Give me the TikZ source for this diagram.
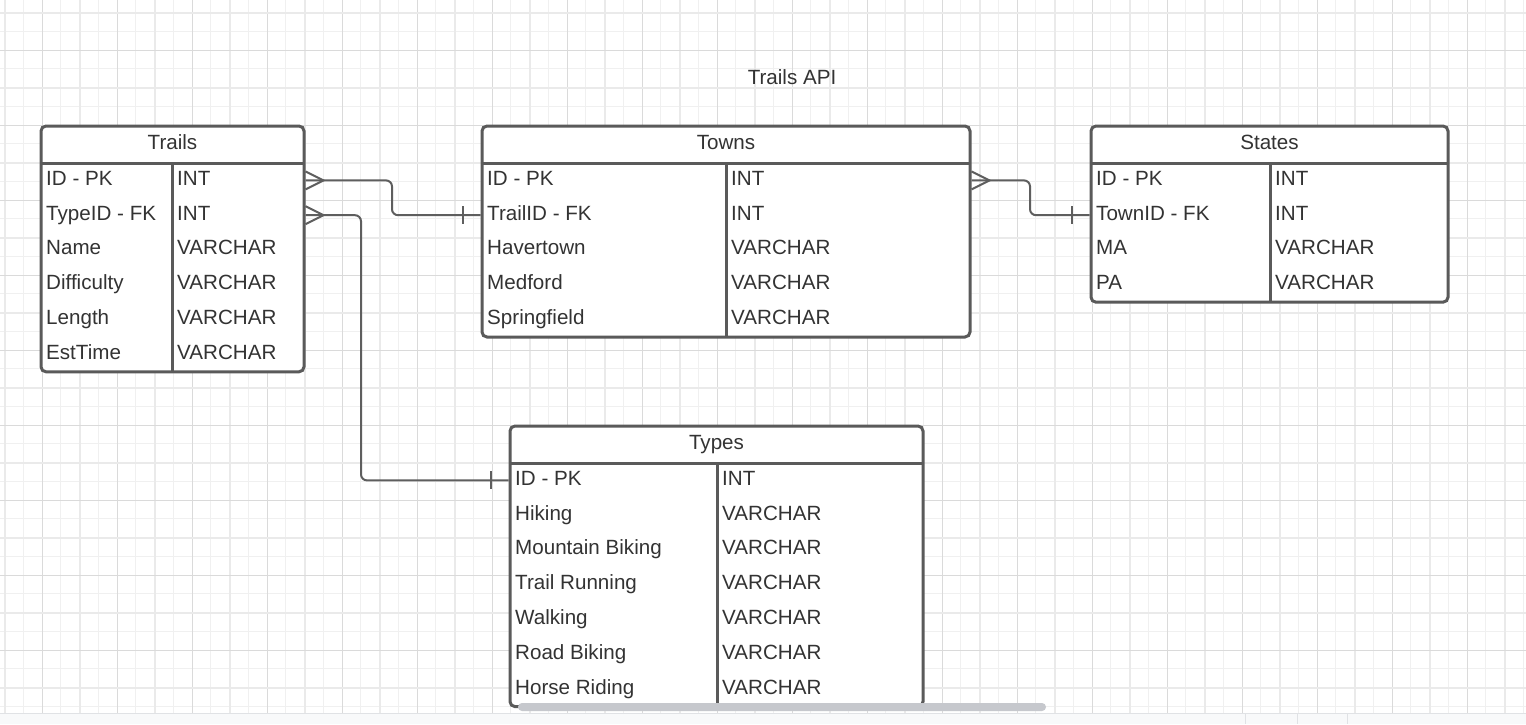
\documentclass[tikz,border=0pt]{standalone}
\usepackage{fontspec}
\setmainfont{Liberation Sans}
\definecolor{gminor}{HTML}{F0F0F0}
\definecolor{gmid}{HTML}{EAEAEA}
\definecolor{gmajor}{HTML}{DADADA}
\definecolor{boxline}{HTML}{5A5A5A}
\definecolor{connline}{HTML}{5E5E5E}
\definecolor{txt}{HTML}{333333}
\definecolor{band}{HTML}{F8F9FA}
\definecolor{bandline}{HTML}{E0E2E5}
\definecolor{scrollc}{HTML}{C6C8CD}
\tikzset{
  tablebox/.style={draw=boxline, line width=3pt, fill=white, rounded corners=5pt},
  divline/.style={draw=boxline, line width=3pt},
  cell/.style={inner sep=0pt, text=txt, font=\fontsize{20.6}{24}\selectfont},
  conn/.style={draw=connline, line width=2pt},
}
\newcommand\ertable[8]{% name, x1, x2, xdiv, top, nrows, title, rows
  \pgfmathsetmacro\ertbot{#5+37+#6*34.8}
  \pgfmathsetmacro\erthd{#5+37}
  \pgfmathsetmacro\ertmid{(#2+#3)/2}
  \pgfmathsetmacro\erttb{#5+23}
  \draw[tablebox] (#2,#5) rectangle (#3,\ertbot);
  \draw[divline] (#2,\erthd) -- (#3,\erthd);
  \draw[divline] (#4,\erthd) -- (#4,\ertbot);
  \node[cell, anchor=base] (#1-title) at (\ertmid,\erttb) {#7};
  \foreach \a/\b [count=\i] in {#8} {
    \pgfmathsetmacro\ertyb{#5+37+(\i-1)*34.8+22.3}
    \node[cell, anchor=base west] (#1-k\i) at (#2+5,\ertyb) {\a};
    \node[cell, anchor=base west] (#1-t\i) at (#4+5,\ertyb) {\b};
  }
}
\begin{document}
\begin{tikzpicture}[x=1pt,y=-1pt]
\useasboundingbox (0,0) rectangle (1526,724);
\fill[white] (0,0) rectangle (1526,724);
% grid
\foreach \k in {0,...,81} {
  \draw[gminor, line width=1pt] (4.5+\k*18.75,0) -- (4.5+\k*18.75,713);
}
\foreach \k in {0,...,37} {
  \draw[gminor, line width=1pt] (0,12.5+\k*18.75) -- (1526,12.5+\k*18.75);
}
\foreach \k in {-1,...,19} {
  \draw[gmid, line width=2pt] (79.5+\k*75,0) -- (79.5+\k*75,713);
  \draw[gmajor, line width=1pt] (42+\k*75,0) -- (42+\k*75,713);
}
\foreach \k in {-1,...,9} {
  \draw[gmid, line width=2pt] (0,87.5+\k*75) -- (1526,87.5+\k*75);
  \draw[gmajor, line width=1pt] (0,50+\k*75) -- (1526,50+\k*75);
}
% title
\node[cell, anchor=base] (title) at (792,84) {Trails API};
% tables
\ertable{trails}{41}{304}{172}{126}{6}{Trails}{ID - PK/INT, TypeID - FK/INT, Name/VARCHAR, Difficulty/VARCHAR, Length/VARCHAR, EstTime/VARCHAR}
\ertable{towns}{482}{970}{726}{126}{5}{Towns}{ID - PK/INT, TrailID - FK/INT, Havertown/VARCHAR, Medford/VARCHAR, Springfield/VARCHAR}
\ertable{states}{1091}{1448}{1270}{126}{4}{States}{ID - PK/INT, TownID - FK/INT, MA/VARCHAR, PA/VARCHAR}
\ertable{types}{510}{923}{717}{426}{7}{Types}{ID - PK/INT, Hiking/VARCHAR, Mountain Biking/VARCHAR, Trail Running/VARCHAR, Walking/VARCHAR, Road Biking/VARCHAR, Horse Riding/VARCHAR}
% connector end points
\coordinate (trails-e1) at (305.5,180.4);
\coordinate (trails-e2) at (305.5,215.2);
\coordinate (towns-w2) at (480.5,215.2);
\coordinate (towns-e1) at (971.5,180.4);
\coordinate (states-w2) at (1089.5,215.2);
\coordinate (types-w1) at (508.5,480.4);
\coordinate (j1) at (392,0);
\coordinate (j2) at (361,0);
\coordinate (j3) at (1030,0);
% connector 1: Trails.ID -> Towns.TrailID
\draw[conn, rounded corners=6pt] (trails-e1) -- (trails-e1 -| j1) -- (towns-w2 -| j1) -- (towns-w2);
\draw[conn] ([shift={(0,-9)}]trails-e1) -- ([shift={(18,0)}]trails-e1) -- ([shift={(0,9)}]trails-e1);
\draw[conn] ([shift={(-18,-9)}]towns-w2) -- ([shift={(-18,9)}]towns-w2);
% connector 2: Trails.TypeID -> Types.ID
\draw[conn, rounded corners=6pt] (trails-e2) -- (trails-e2 -| j2) -- (types-w1 -| j2) -- (types-w1);
\draw[conn] ([shift={(0,-9)}]trails-e2) -- ([shift={(18,0)}]trails-e2) -- ([shift={(0,9)}]trails-e2);
\draw[conn] ([shift={(-18,-9)}]types-w1) -- ([shift={(-18,9)}]types-w1);
% connector 3: Towns.ID -> States.TownID
\draw[conn, rounded corners=6pt] (towns-e1) -- (towns-e1 -| j3) -- (states-w2 -| j3) -- (states-w2);
\draw[conn] ([shift={(0,-9)}]towns-e1) -- ([shift={(18,0)}]towns-e1) -- ([shift={(0,9)}]towns-e1);
\draw[conn] ([shift={(-18,-9)}]states-w2) -- ([shift={(-18,9)}]states-w2);
% scroll bar and bottom band
\fill[scrollc, rounded corners=4pt] (518,703) rectangle (1046,711);
\fill[band] (0,713) rectangle (1526,724);
\draw[bandline, line width=1pt] (0,713.5) -- (1526,713.5);
\foreach \sx in {1245,1297,1347} {
  \draw[bandline, line width=1pt] (\sx,714) -- (\sx,724);
}
\end{tikzpicture}
\end{document}
